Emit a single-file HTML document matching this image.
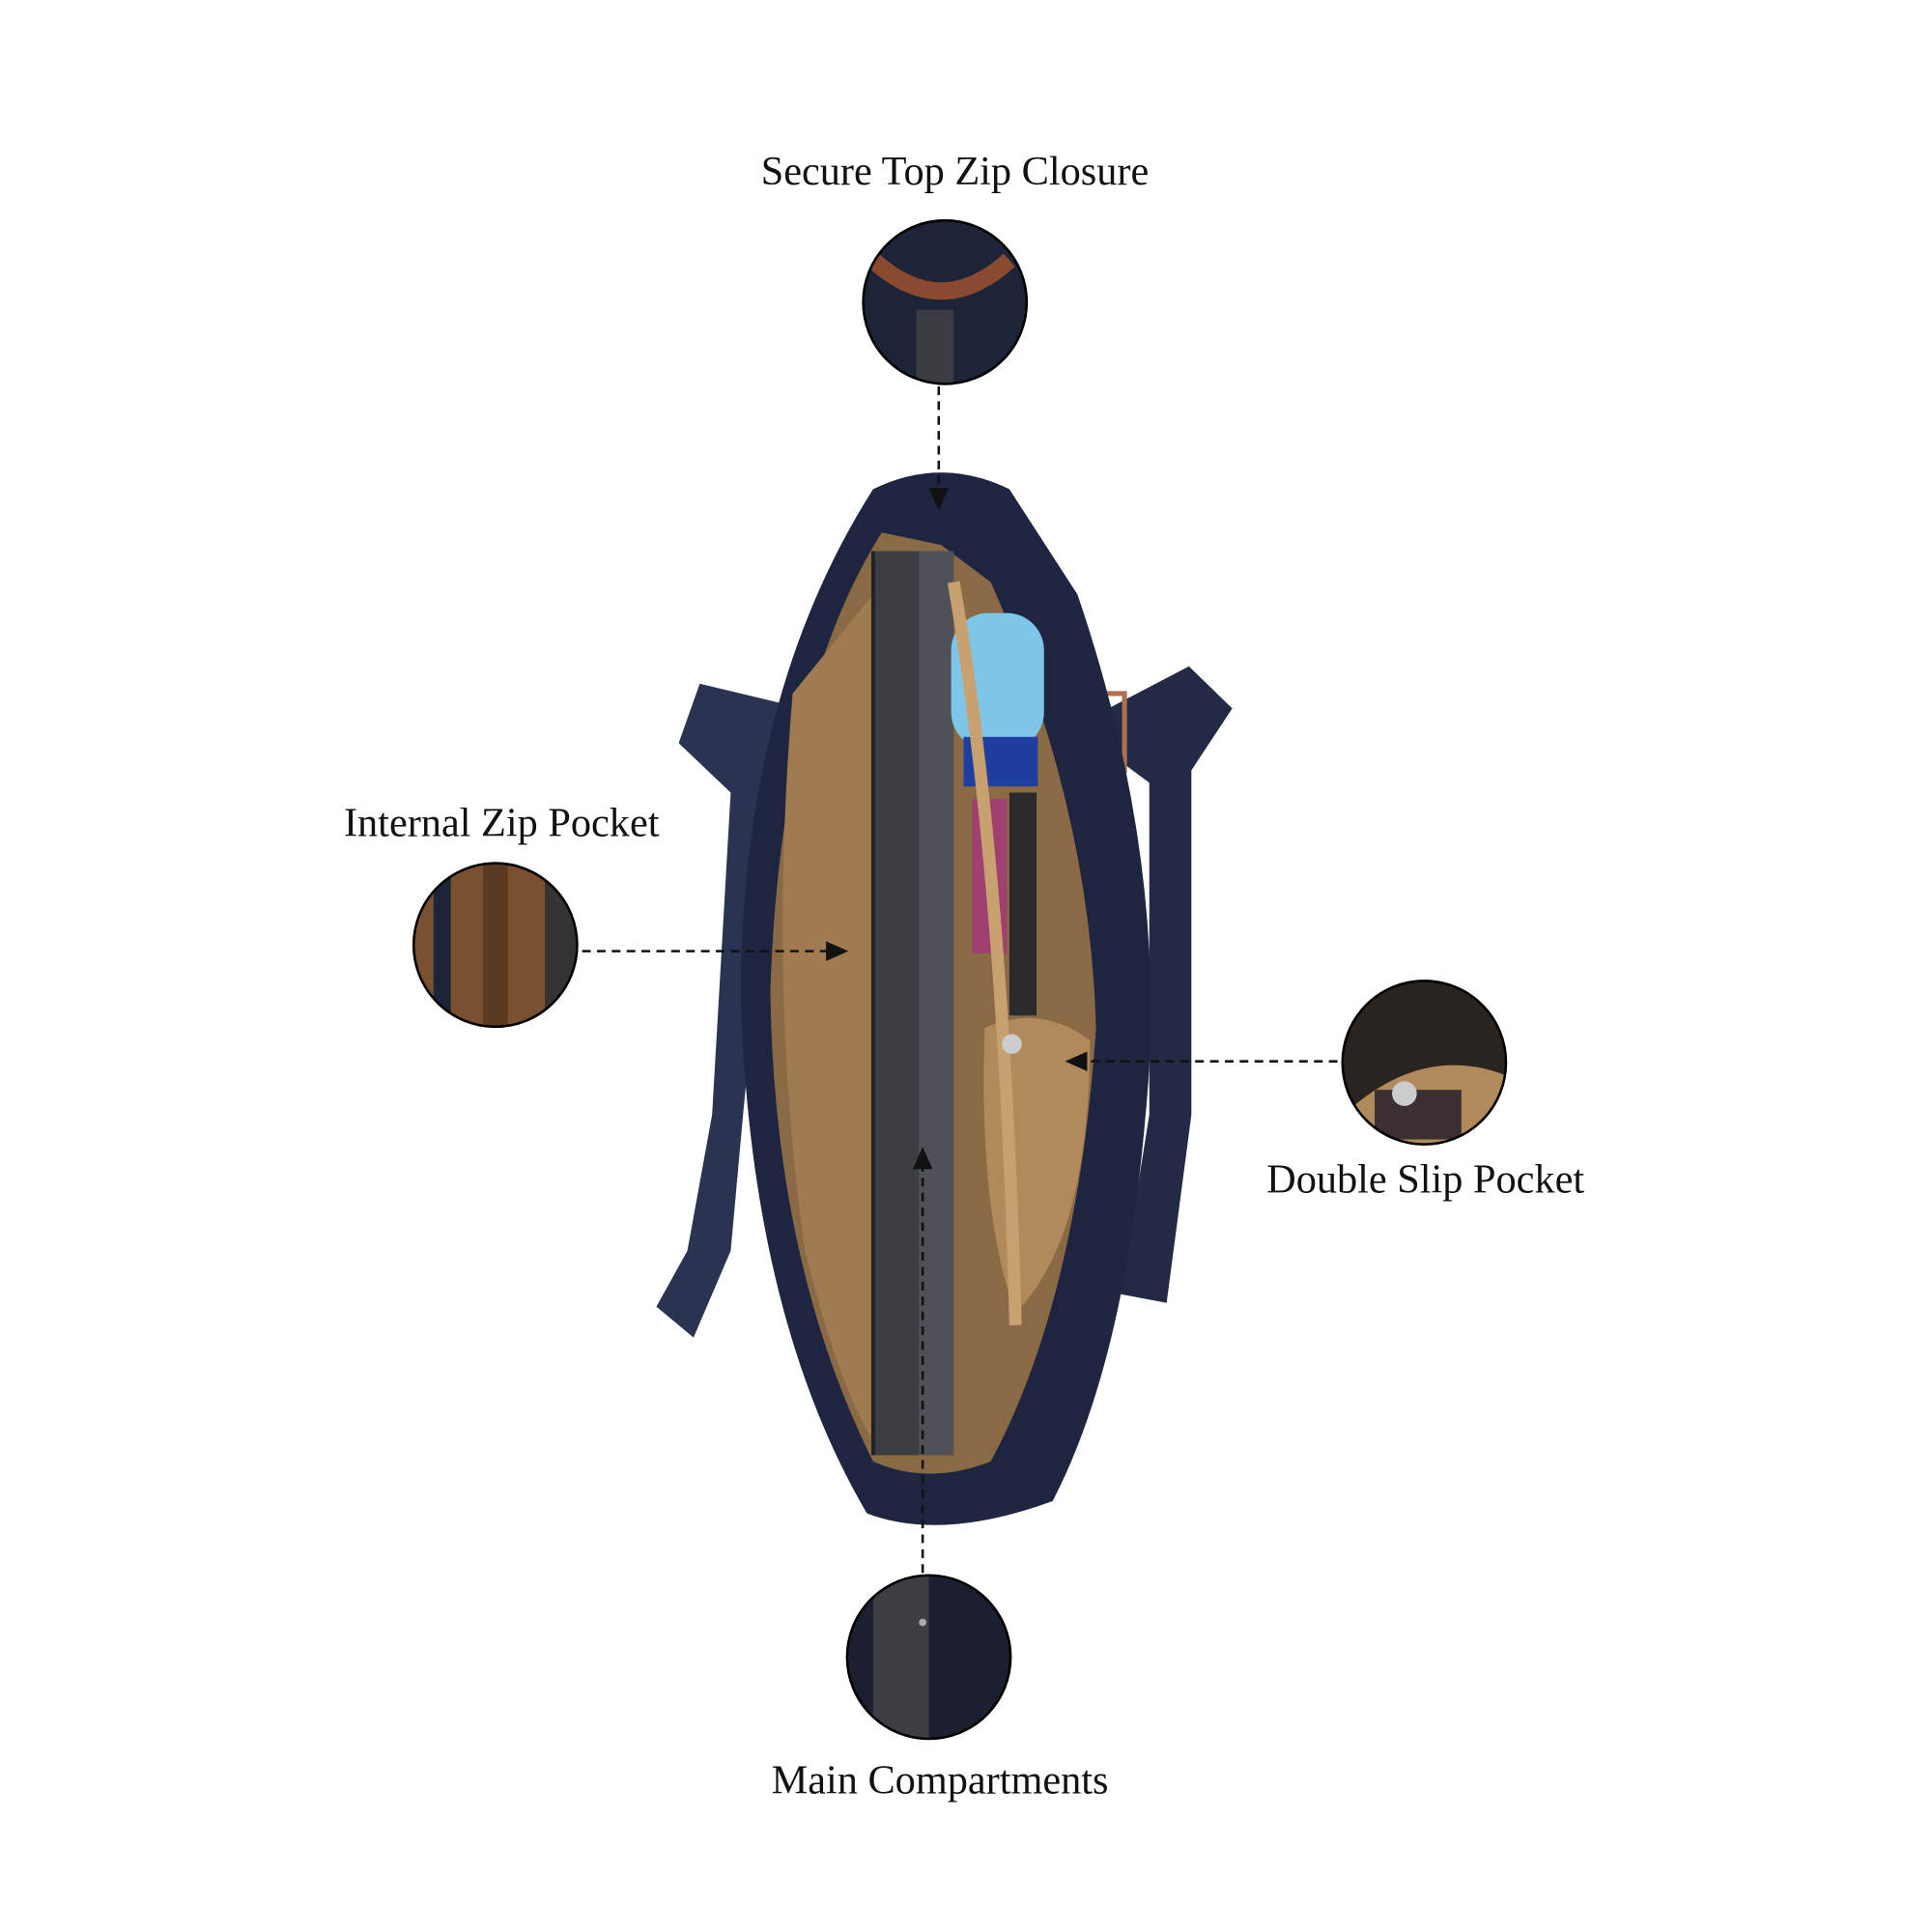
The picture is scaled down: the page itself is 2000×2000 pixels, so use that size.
<!DOCTYPE html>
<html><head><meta charset="utf-8"><style>
html,body{margin:0;padding:0;background:#fff;}
svg{display:block}
text{font-family:"Liberation Serif",serif;fill:#111;}
</style></head><body>
<svg width="2000" height="2000" viewBox="0 0 1560 1560" xmlns="http://www.w3.org/2000/svg">
<defs>
<marker id="ar" markerWidth="10" markerHeight="10" refX="8" refY="5" orient="auto"><path d="M0,1 L9,5 L0,9 z" fill="#111"/></marker>
<clipPath id="c1"><circle cx="763" cy="244" r="66"/></clipPath>
<clipPath id="c2"><circle cx="400" cy="763" r="66"/></clipPath>
<clipPath id="c3"><circle cx="1150" cy="858" r="66"/></clipPath>
<clipPath id="c4"><circle cx="750" cy="1338" r="66"/></clipPath>
</defs>
<rect width="1560" height="1560" fill="#fff"/>
<!-- labels -->
<text x="771" y="149" font-size="33" text-anchor="middle">Secure Top Zip Closure</text>
<text x="405" y="675" font-size="33" text-anchor="middle">Internal Zip Pocket</text>
<text x="1151" y="963" font-size="33" text-anchor="middle">Double Slip Pocket</text>
<text x="759" y="1448" font-size="33" text-anchor="middle">Main Compartments</text>

<!-- handles -->
<path d="M565,552 L640,570 L625,640 L600,900 L590,1010 L560,1080 L530,1055 L555,1010 L575,900 L590,640 L548,600 Z" fill="#2a3450"/>
<path d="M895,572 L960,538 L995,572 L962,622 L962,900 L942,1052 L905,1045 L928,900 L928,632 L905,615 Z" fill="#232a45"/>
<rect x="880" y="560" width="28" height="62" fill="none" stroke="#b07050" stroke-width="4"/>
<rect x="872" y="985" width="28" height="62" fill="none" stroke="#b07050" stroke-width="4"/>
<!-- body -->
<path d="M705,395 Q760,368 815,395 L870,480 Q945,700 925,900 Q908,1100 850,1212 Q760,1245 700,1222 Q605,1060 598,800 Q600,560 705,395 Z" fill="#1d2540"/>
<path d="M712,430 L760,440 L800,470 Q880,650 885,830 Q870,1050 800,1180 Q750,1200 705,1180 Q625,1020 622,800 Q630,560 712,430 Z" fill="#8a6a45"/>
<path d="M640,560 Q620,800 650,1010 Q680,1130 710,1170 L705,480 Z" fill="#a07a50"/>
<!-- laptop -->
<rect x="705" y="445" width="65" height="730" fill="#3c3e44"/>
<rect x="742" y="445" width="28" height="730" fill="#4e5157"/>
<line x1="705" y1="445" x2="705" y2="1175" stroke="#222" stroke-width="3"/>
<!-- bottle -->
<rect x="768" y="495" width="75" height="110" rx="30" fill="#7ec6e8"/>
<rect x="778" y="595" width="60" height="40" fill="#1e3fa0"/>
<!-- items -->
<rect x="785" y="645" width="28" height="125" fill="#a04070"/>
<rect x="815" y="640" width="22" height="180" fill="#2a2a2a"/>
<path d="M795,830 Q840,810 880,840 Q880,1000 820,1060 Q790,980 795,830 Z" fill="#b08a5a"/>
<path d="M770,470 Q810,700 820,1070" stroke="#c9a070" stroke-width="10" fill="none"/>
<circle cx="817" cy="843" r="8" fill="#ccc"/>

<!-- circles -->
<g clip-path="url(#c1)"><rect x="690" y="170" width="150" height="150" fill="#1e2438"/><rect x="740" y="250" width="30" height="80" fill="#3a3c42"/><path d="M705,210 Q760,260 815,210" stroke="#8a4a30" stroke-width="14" fill="none"/></g>
<circle cx="763" cy="244" r="66" fill="none" stroke="#000" stroke-width="2"/>
<g clip-path="url(#c2)"><rect x="330" y="690" width="150" height="150" fill="#7a5030"/><rect x="350" y="690" width="14" height="150" fill="#1e2438"/><rect x="440" y="690" width="40" height="150" fill="#333"/><rect x="390" y="690" width="20" height="150" fill="#5a3a20"/></g>
<circle cx="400" cy="763" r="66" fill="none" stroke="#000" stroke-width="2"/>
<g clip-path="url(#c3)"><rect x="1080" y="790" width="150" height="150" fill="#2a2420"/><path d="M1085,900 Q1150,840 1220,870 L1220,930 L1085,930Z" fill="#b08a5a"/><rect x="1110" y="880" width="70" height="40" fill="#3a3030"/><circle cx="1134" cy="883" r="10" fill="#ccc"/></g>
<circle cx="1150" cy="858" r="66" fill="none" stroke="#000" stroke-width="2"/>
<g clip-path="url(#c4)"><rect x="680" y="1270" width="150" height="150" fill="#1c1f30"/><rect x="705" y="1270" width="45" height="150" fill="#3c3e44"/><circle cx="745" cy="1310" r="3" fill="#aaa"/></g>
<circle cx="750" cy="1338" r="66" fill="none" stroke="#000" stroke-width="2"/>

<!-- dashed connectors -->
<g stroke="#111" stroke-width="2" stroke-dasharray="7,5" fill="none">
<line x1="758" y1="312" x2="758" y2="410" marker-end="url(#ar)"/>
<line x1="470" y1="768" x2="683" y2="768" marker-end="url(#ar)"/>
<line x1="1080" y1="857" x2="862" y2="857" marker-end="url(#ar)"/>
<line x1="745" y1="1270" x2="745" y2="928" marker-end="url(#ar)"/>
</g>
</svg>
</body></html>
